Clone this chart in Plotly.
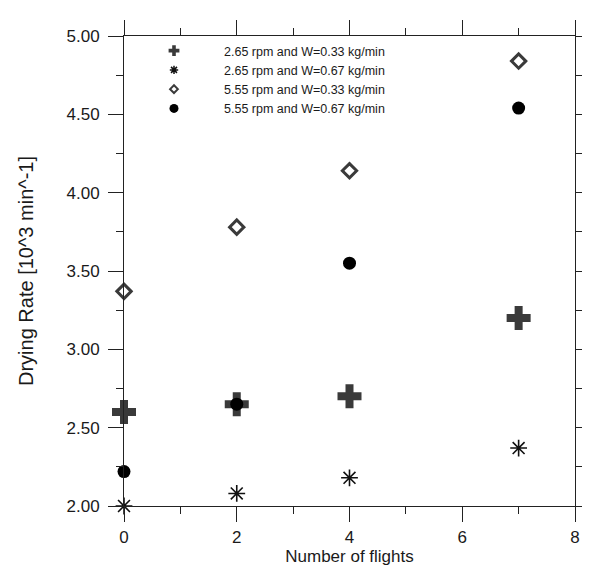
import plotly.graph_objects as go

flights = [0, 2, 4, 7]
rate_265_033 = [2.60, 2.65, 2.70, 3.20]
rate_265_067 = [2.00, 2.08, 2.18, 2.37]
rate_555_033 = [3.37, 3.78, 4.14, 4.84]
rate_555_067 = [2.22, 2.65, 3.55, 4.54]

names = ["2.65 rpm and W=0.33 kg/min", "2.65 rpm and W=0.67 kg/min",
         "5.55 rpm and W=0.33 kg/min", "5.55 rpm and W=0.67 kg/min"]
series = [rate_265_033, rate_265_067, rate_555_033, rate_555_067]

markers = [
    dict(symbol="cross", size=20, color="#3a3a3a", line=dict(width=0)),
    dict(symbol="asterisk-open", size=14, color="#111111", line=dict(width=1.6, color="#111111")),
    dict(symbol="diamond-open", size=11, color="#3a3a3a", line=dict(width=3, color="#3a3a3a")),
    dict(symbol="circle", size=13, color="#000000", line=dict(width=0)),
]
legend_markers = [
    dict(symbol="cross", size=9, color="#3a3a3a", line=dict(width=0)),
    dict(symbol="asterisk-open", size=7, color="#111111", line=dict(width=1.5, color="#111111")),
    dict(symbol="diamond-open", size=6, color="#3a3a3a", line=dict(width=2, color="#3a3a3a")),
    dict(symbol="circle", size=9, color="#000000", line=dict(width=0)),
]

fig = go.Figure()
for name, ys, mk in zip(names, series, markers):
    fig.add_trace(go.Scatter(x=flights, y=ys, mode="markers", marker=mk,
                             name=name, showlegend=False, cliponaxis=False))
for i, (name, mk) in enumerate(zip(names, legend_markers)):
    fig.add_trace(go.Scatter(x=[None], y=[None], mode="markers", marker=mk,
                             name=name, showlegend=True, legendgroup=f"g{i}"))

font = "Liberation Sans, Arial, sans-serif"
axcol = "#222222"
fig.update_layout(
    width=590, height=565,
    margin=dict(l=116, r=7, t=28, b=67),
    paper_bgcolor="white", plot_bgcolor="white",
    font=dict(family=font, size=17, color="#1a1a1a"),
    showlegend=True,
    legend=dict(x=0.0, y=1.0, xanchor="left", yanchor="top",
                bgcolor="rgba(0,0,0,0)", borderwidth=0,
                font=dict(size=12.5, family=font), itemwidth=90,
                tracegroupgap=0, itemsizing="trace"),
    xaxis=dict(range=[0, 8], dtick=2, tick0=0, showgrid=False, zeroline=False,
               showline=True, linecolor=axcol, linewidth=1, mirror="allticks",
               ticks="outside", ticklen=15, tickwidth=1, tickcolor=axcol,
               ticklabelstandoff=1,
               minor=dict(dtick=1, ticklen=7, tickwidth=1, tickcolor=axcol, ticks="outside", showgrid=False),
               title=dict(text="Number of flights", standoff=0, font=dict(size=17)),
               tickfont=dict(size=17)),
    yaxis=dict(range=[2, 5], dtick=0.5, tick0=2, tickformat=".2f", showgrid=False, zeroline=False,
               showline=True, linecolor=axcol, linewidth=1, mirror="allticks",
               ticks="outside", ticklen=15, tickwidth=1, tickcolor=axcol,
               ticklabelstandoff=5,
               minor=dict(dtick=0.25, ticklen=7, tickwidth=1, tickcolor=axcol, ticks="outside", showgrid=False),
               title=dict(text="Drying Rate [10^3 min^-1]", standoff=27),
               tickfont=dict(size=17)),
)

fig.write_html("out.html")
